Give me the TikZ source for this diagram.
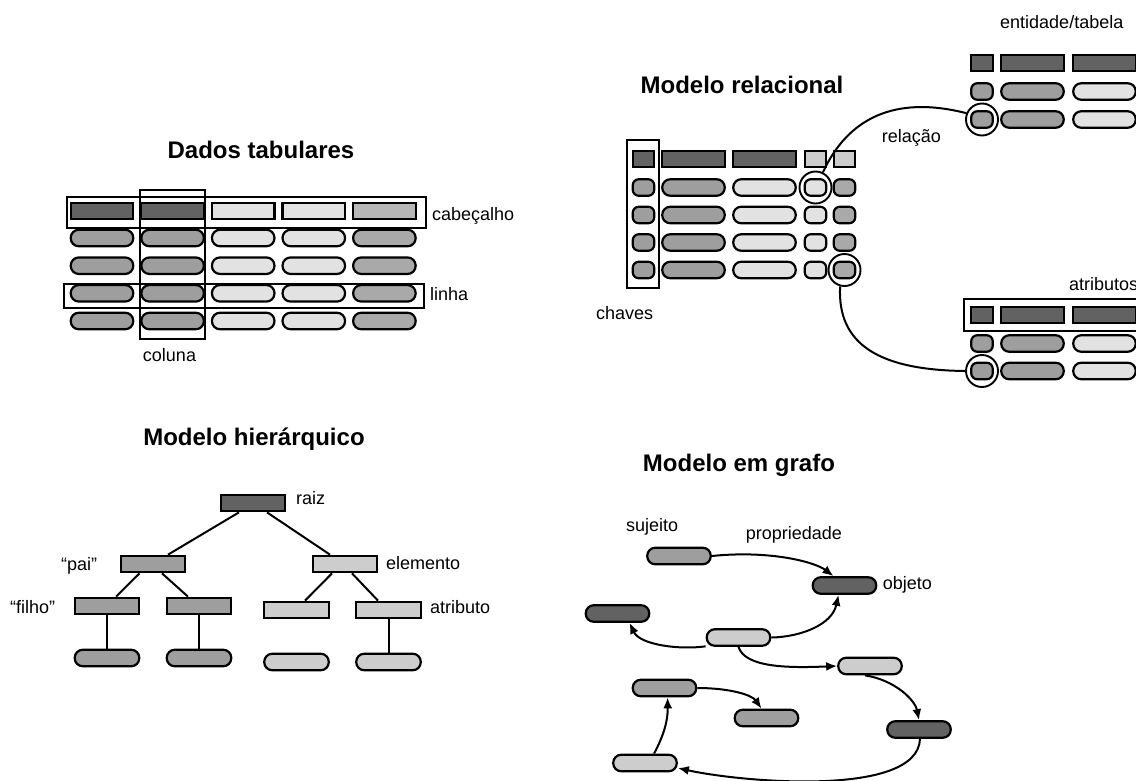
\documentclass[tikz,border=0pt]{standalone}
\usepackage{fontspec}
\setmainfont{Liberation Sans}
\usetikzlibrary{arrows.meta,calc}

\definecolor{dk}{HTML}{626262}
\definecolor{md}{HTML}{9E9E9E}
\definecolor{mdb}{HTML}{A9A9A9}
\definecolor{hl}{HTML}{B7B7B7}
\definecolor{lt}{HTML}{E2E2E2}
\definecolor{lg}{HTML}{CDCDCD}

\begin{document}
\begin{tikzpicture}[x=1pt,y=-1pt,
  cell/.style={draw, line width=2.2pt, rectangle, inner sep=0pt, minimum height=16.5pt},
  hdr/.style={cell, minimum width=62.5pt},
  pill/.style={cell, rounded corners=8pt, minimum width=62.5pt},
  kcell/.style={cell, minimum width=21.5pt},
  kpill/.style={cell, rounded corners=6pt, minimum width=21.5pt},
  frame/.style={draw, line width=1.7pt, inner sep=0pt, rectangle},
  ring/.style={draw, circle, line width=1.9pt, minimum size=32pt, inner sep=0pt},
  tnode/.style={cell, minimum width=64.5pt},
  tpill/.style={pill, minimum width=64.5pt},
  gpill/.style={pill, minimum width=63.5pt},
  link/.style={line width=2pt},
  arr/.style={line width=2pt, -{Latex[length=11pt,width=9pt]}},
  lbl/.style={font=\fontsize{18}{21}\selectfont, inner sep=0pt, anchor=base west},
  ttl/.style={font=\fontsize{24}{28}\selectfont\bfseries, inner sep=0pt, anchor=base},
]
\useasboundingbox (0,0) rectangle (1136,780);
\clip (0,0) rectangle (1136,780);

% ---------------- Dados tabulares ----------------
\node[ttl] (t1title) at (261,158) {Dados tabulares};
\foreach \c/\x/\hc/\pc in {1/102/dk/md, 2/172.6/dk/md, 3/243.2/lt/lt, 4/313.8/lt/lt, 5/384.4/hl/mdb} {
  \node[hdr, fill=\hc] (t1h\c) at (\x,211) {};
  \foreach \r/\y in {1/238, 2/265.7, 3/293.3, 4/321} {
    \node[pill, fill=\pc] (t1r\r c\c) at (\x,\y) {};
  }
}
\node[frame, minimum width=359pt, minimum height=31pt] (t1hdrbox) at (246.5,212.5) {};
\node[frame, minimum width=65pt, minimum height=149pt] (t1colbox) at (172.5,264.5) {};
\node[frame, minimum width=360pt, minimum height=24pt] (t1rowbox) at (244,296) {};
\node[lbl] (t1cab) at (432,220) {cabeçalho};
\node[lbl] (t1lin) at (430,300) {linha};
\node[lbl, anchor=base] (t1col) at (169.5,361) {coluna};

% ---------------- Modelo relacional ----------------
\node[ttl] (t2title) at (742,93) {Modelo relacional};

% main table
\node[kcell, fill=dk] (mh1) at (643.5,159) {};
\node[hdr, fill=dk] (mh2) at (693.5,159) {};
\node[hdr, fill=dk] (mh3) at (764.5,159) {};
\node[kcell, fill=lg] (mh4) at (815.5,159) {};
\node[kcell, fill=lg] (mh5) at (844.5,159) {};
\foreach \r/\y in {1/187.5, 2/215, 3/242.5, 4/270} {
  \node[kpill, fill=md] (m\r c1) at (643.5,\y) {};
  \node[pill, fill=md] (m\r c2) at (693.5,\y) {};
  \node[pill, fill=lt] (m\r c3) at (764.5,\y) {};
  \node[kpill, fill=lt] (m\r c4) at (815.5,\y) {};
  \node[kpill, fill=mdb] (m\r c5) at (844.5,\y) {};
}
\node[frame, minimum width=32pt, minimum height=148pt] (keybox) at (643,214) {};
\node[ring] (r1) at (815.5,187.5) {};
\node[ring] (r2) at (844.5,270) {};

% entity table (top right)
\node[kcell, fill=dk] (eh1) at (982,63) {};
\node[hdr, fill=dk] (eh2) at (1032.5,63) {};
\node[hdr, fill=dk] (eh3) at (1104.5,63) {};
\foreach \r/\y in {1/91.5, 2/119.5} {
  \node[kpill, fill=md] (e\r c1) at (982,\y) {};
  \node[pill, fill=md] (e\r c2) at (1032.5,\y) {};
  \node[pill, fill=lt] (e\r c3) at (1104.5,\y) {};
}
\node[ring] (r3) at (982,119.5) {};

% attribute table (bottom right)
\node[kcell, fill=dk] (ah1) at (982,315) {};
\node[hdr, fill=dk] (ah2) at (1032.5,315) {};
\node[hdr, fill=dk] (ah3) at (1104.5,315) {};
\foreach \r/\y in {1/343.5, 2/371} {
  \node[kpill, fill=md] (a\r c1) at (982,\y) {};
  \node[pill, fill=md] (a\r c2) at (1032.5,\y) {};
  \node[pill, fill=lt] (a\r c3) at (1104.5,\y) {};
}
\node[frame, minimum width=196pt, minimum height=32pt] (attrbox) at (1062,315) {};
\node[ring] (r4) at (982,371) {};

% relations
\draw[link] (r1.64) .. controls (848,118) and (895,95) .. (r3.158);
\draw[link] (r2.255) .. controls (837,345) and (880,370) .. (r4.west);

\node[lbl] (entlbl) at (1000,28) {entidade/tabela};
\node[lbl] (rellbl) at (881.7,142) {relação};
\node[lbl] (keylbl) at (596,319) {chaves};
\node[lbl] (attlbl) at (1069,290) {atributos};

% ---------------- Modelo hierárquico ----------------
\node[ttl] (t3title) at (254,445) {Modelo hierárquico};
\node[tnode, fill=dk] (root) at (253,503) {};
\node[tnode, fill=md] (pai) at (153,564) {};
\node[tnode, fill=lg] (elem) at (345,564) {};
\node[tnode, fill=md] (f1) at (107,606) {};
\node[tnode, fill=md] (f2) at (199,606) {};
\node[tnode, fill=lg] (a1) at (296.5,610) {};
\node[tnode, fill=lg] (a2) at (388.5,610) {};
\node[tpill, fill=md] (p1) at (107,658) {};
\node[tpill, fill=md] (p2) at (199,658) {};
\node[tpill, fill=lg] (p3) at (296.5,662) {};
\node[tpill, fill=lg] (p4) at (388.5,662) {};

\draw[link] ($(root.south)+(-14,0)$) -- ($(pai.north)+(15,0)$);
\draw[link] ($(root.south)+(14,0)$) -- ($(elem.north)+(-15,0)$);
\draw[link] ($(pai.south)+(-13.5,0)$) -- ($(f1.north)+(9,0)$);
\draw[link] ($(pai.south)+(9,0)$) -- ($(f2.north)+(-11,0)$);
\draw[link] ($(elem.south)+(-13,0)$) -- ($(a1.north)+(8.5,0)$);
\draw[link] ($(elem.south)+(7,0)$) -- ($(a2.north)+(-10.5,0)$);
\draw[link] (f1.south) -- (p1.north);
\draw[link] (f2.south) -- (p2.north);
\draw[link] (a2.south) -- (p4.north);

\node[lbl] (rootlbl) at (296,504) {raiz};
\node[lbl] (pailbl) at (61,570) {“pai”};
\node[lbl] (elemlbl) at (386,569) {elemento};
\node[lbl] (filholbl) at (10,613) {“filho”};
\node[lbl] (atrlbl) at (430,613) {atributo};

% ---------------- Modelo em grafo ----------------
\node[ttl] (t4title) at (739,471.5) {Modelo em grafo};
\node[gpill, fill=md] (S) at (679,556) {};
\node[gpill, fill=dk] (O) at (844.5,585.5) {};
\node[gpill, fill=dk] (D1) at (617.5,613.5) {};
\node[gpill, fill=lg] (M) at (738.5,637.5) {};
\node[gpill, fill=lg] (L2) at (870,666) {};
\node[gpill, fill=md] (G1) at (664.5,688) {};
\node[gpill, fill=md] (G2) at (766.5,718) {};
\node[gpill, fill=dk] (D2) at (919,729.5) {};
\node[gpill, fill=lg] (L3) at (645,763) {};

\draw[arr] (S.east) .. controls (770,550) and (815,562) .. ($(O.north)+(-11,0)$);
\draw[arr] (M.east) .. controls (800,637) and (832,625) .. ($(O.south)+(-6,0)$);
\draw[arr] (M.195) .. controls (680,650) and (640,645) .. ($(D1.south)+(12,0)$);
\draw[arr] (M.south) .. controls (745,668) and (790,668) .. (L2.west);
\draw[arr] ($(L2.south)+(-5,0)$) .. controls (895,680) and (915,700) .. (D2.north);
\draw[arr] (G1.east) .. controls (730,688) and (752,695) .. ($(G2.north)+(-5,0)$);
\draw[arr] ($(L3.north)+(9,0)$) .. controls (664,735) and (668,720) .. ($(G1.south)+(3,0)$);
\draw[arr] ($(D2.south)+(1,0)$) .. controls (918,798) and (740,782) .. ($(L3.east)+(0,5)$);

\node[lbl] (sujlbl) at (626,531.5) {sujeito};
\node[lbl] (proplbl) at (745.7,539) {propriedade};
\node[lbl] (objlbl) at (882.7,589) {objeto};
\end{tikzpicture}
\end{document}
